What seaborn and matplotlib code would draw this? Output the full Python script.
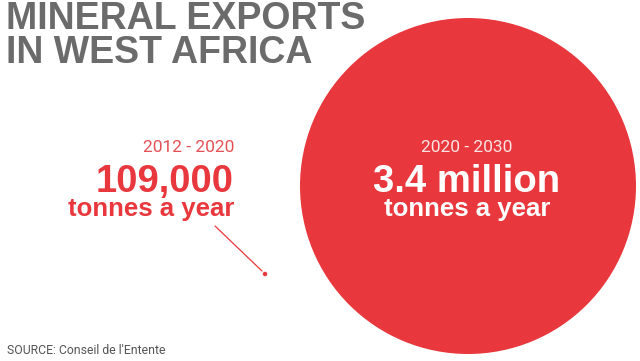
import matplotlib
matplotlib.use("Agg")
import matplotlib.pyplot as plt
import seaborn as sns
import pandas as pd

# data
periods = ["2012 - 2020", "2020 - 2030"]
tonnes_per_year = [109000, 3400000]
amount_labels = ["109,000", "3.4 million"]
unit_label = "tonnes a year"
title = "MINERAL EXPORTS\nIN WEST AFRICA"
source = "SOURCE: Conseil de l'Entente"

sns.set_theme(style="white")
plt.rcParams['font.family'] = ['Liberation Sans', 'DejaVu Sans']

RED = "#e8383d"
GRAY = "#6b6b6b"
W, H = 640, 361
fig = plt.figure(figsize=(6.4, 3.61), dpi=100)
ax = fig.add_axes([0, 0, 1, 1])

# layout (pixel coordinates)
pos_x = [265, 468]
pos_y = [274, 186]
diam_px = [4.5, 336]
pt = 72 / 100
df = pd.DataFrame({"x": pos_x, "y": pos_y, "value": tonnes_per_year, "period": periods})
sns.scatterplot(data=df, x="x", y="y", size="value",
                sizes=((diam_px[0] * pt) ** 2, (diam_px[1] * pt) ** 2),
                color=RED, linewidth=0, legend=False, ax=ax, zorder=2)
ax.set_xlim(0, W)
ax.set_ylim(H, 0)
ax.axis("off")

# leader line
ax.plot([215, 262], [226, 271], color=RED, lw=0.9, zorder=1)

# title
ax.text(6, 1, title, ha="left", va="top", fontsize=27, fontweight="bold",
        color=GRAY, linespacing=0.93)

# label positions: baseline y of each line
y_period, y_amount, y_unit = 152, 192, 216

# small label
rx = 234
ax.text(rx, y_period, periods[0], ha="right", va="baseline", fontsize=12.5,
        family=["Roboto", "DejaVu Sans"], color="#e45055")
ax.text(rx, y_amount, amount_labels[0], ha="right", va="baseline", fontsize=27.5,
        fontweight="bold", color=RED)
ax.text(rx, y_unit, unit_label, ha="right", va="baseline", fontsize=18.5,
        fontweight="bold", color=RED)

# big label
cx = 467
ax.text(cx, y_period, periods[1], ha="center", va="baseline", fontsize=12.5,
        family=["Roboto", "DejaVu Sans"], color="#fbe3e3")
ax.text(cx, y_amount, amount_labels[1], ha="center", va="baseline", fontsize=27.5,
        fontweight="bold", color="white")
ax.text(cx, y_unit, unit_label, ha="center", va="baseline", fontsize=18.5,
        fontweight="bold", color="white")

ax.text(7, 350, source, ha="left", va="center", fontsize=8.8, color="#555555",
        family=["Roboto", "DejaVu Sans"])

fig.savefig("out.png", dpi=100, facecolor="white")
